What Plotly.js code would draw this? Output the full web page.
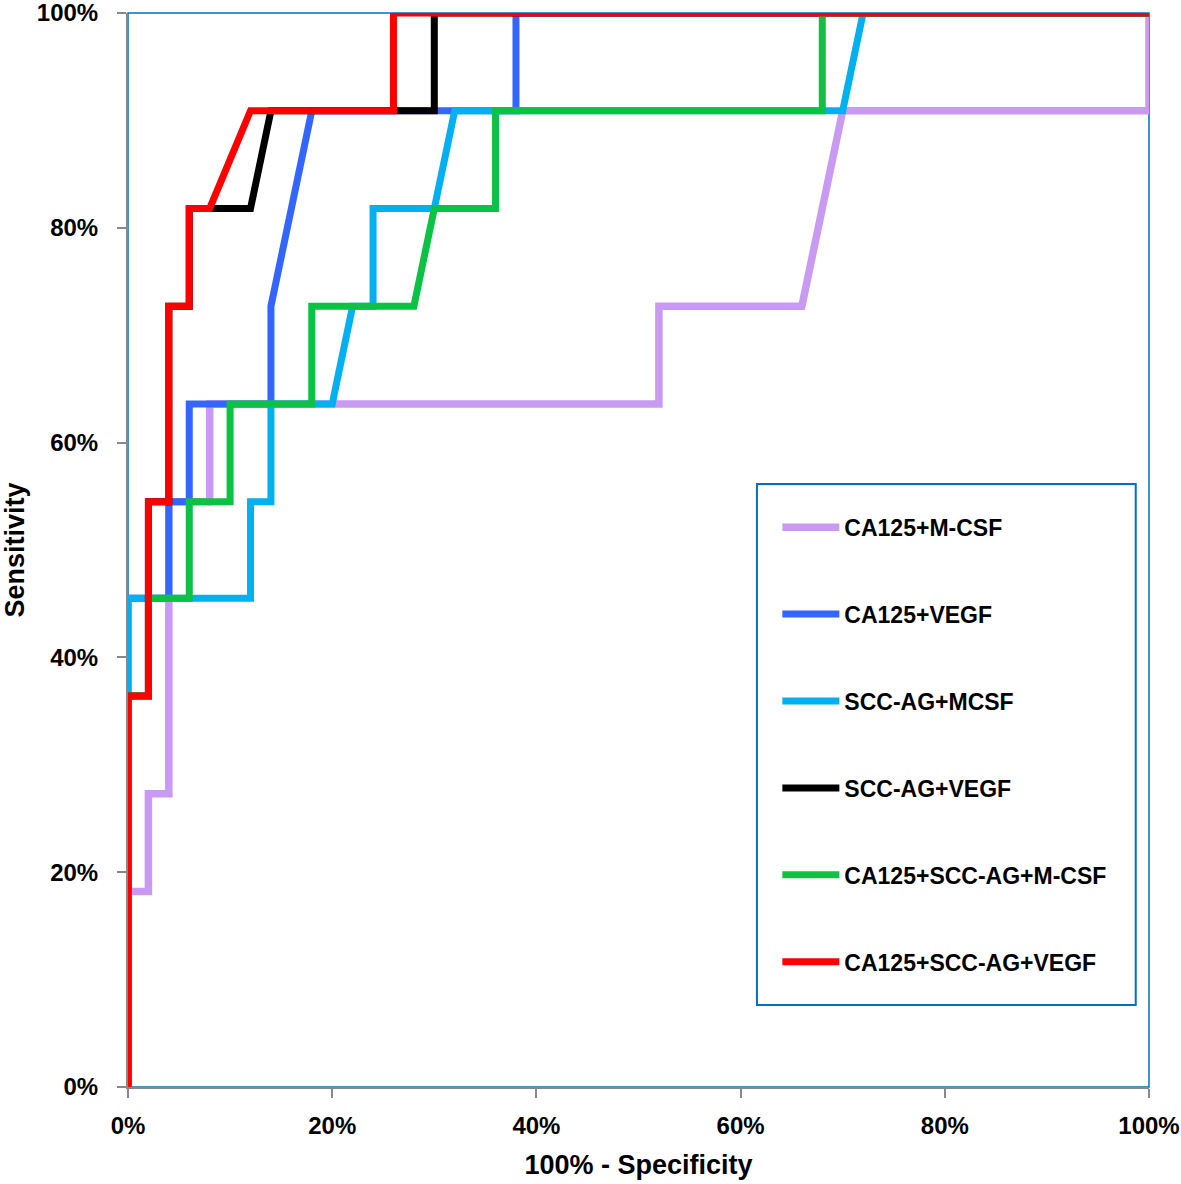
<!DOCTYPE html>
<html>
<head>
<meta charset="utf-8">
<script src="https://cdn.plot.ly/plotly-3.0.1.min.js"></script>
<style>
  html, body { margin: 0; padding: 0; background: #fff; }
  #chart { width: 1181px; height: 1184px; }
</style>
</head>
<body>
<div id="chart"></div>
<script>
// Series names (legend order)
var seriesNames = ["CA125+M-CSF", "CA125+VEGF", "SCC-AG+MCSF", "SCC-AG+VEGF", "CA125+SCC-AG+M-CSF", "CA125+SCC-AG+VEGF"];
var seriesColors = ["#C99AF2", "#3366FF", "#00B0F0", "#000000", "#0CC143", "#FF0000"];

// 100% - Specificity (%) and Sensitivity (%) for each ROC curve
var ca125Mcsf_x = [0, 0, 2, 2, 4, 4, 8, 8, 52, 52, 66, 70, 100, 100];
var ca125Mcsf_y = [0, 18.2, 18.2, 27.3, 27.3, 54.5, 54.5, 63.6, 63.6, 72.7, 72.7, 90.9, 90.9, 100];

var ca125Vegf_x = [0, 0, 4, 4, 6, 6, 14, 14, 18, 38, 38, 100];
var ca125Vegf_y = [0, 45.5, 45.5, 54.5, 54.5, 63.6, 63.6, 72.7, 90.9, 90.9, 100, 100];

var sccMcsf_x = [0, 0, 12, 12, 14, 14, 20, 22, 24, 24, 30, 32, 70, 72, 100];
var sccMcsf_y = [0, 45.5, 45.5, 54.5, 54.5, 63.6, 63.6, 72.7, 72.7, 81.8, 81.8, 90.9, 90.9, 100, 100];

var sccVegf_x = [0, 0, 2, 2, 4, 4, 6, 6, 12, 14, 30, 30, 100];
var sccVegf_y = [0, 36.4, 36.4, 54.5, 54.5, 72.7, 72.7, 81.8, 81.8, 90.9, 90.9, 100, 100];

var ca125SccMcsf_x = [0, 0, 2, 2, 6, 6, 10, 10, 18, 18, 28, 30, 36, 36, 68, 68, 100];
var ca125SccMcsf_y = [0, 36.4, 36.4, 45.5, 45.5, 54.5, 54.5, 63.6, 63.6, 72.7, 72.7, 81.8, 81.8, 90.9, 90.9, 100, 100];

var ca125SccVegf_x = [0, 0, 2, 2, 4, 4, 6, 6, 8, 12, 26, 26, 100];
var ca125SccVegf_y = [0, 36.4, 36.4, 54.5, 54.5, 72.7, 72.7, 81.8, 81.8, 90.9, 90.9, 100, 100];

var tickVals = [0, 20, 40, 60, 80, 100];
var tickText = ["0%", "20%", "40%", "60%", "80%", "100%"];

var xs = [ca125Mcsf_x, ca125Vegf_x, sccMcsf_x, sccVegf_x, ca125SccMcsf_x, ca125SccVegf_x];
var ys = [ca125Mcsf_y, ca125Vegf_y, sccMcsf_y, sccVegf_y, ca125SccMcsf_y, ca125SccVegf_y];
var widths = [7.5, 7, 7, 7, 7, 7];

var FONT = "Liberation Sans, Arial, Helvetica, sans-serif";

var traces = seriesNames.map(function (name, i) {
  return {
    type: "scatter",
    mode: "lines",
    name: name,
    legendgroup: "g" + i,
    x: xs[i],
    y: ys[i],
    line: { color: seriesColors[i], width: widths[i] },
    hoverinfo: "x+y+name"
  };
});

var axisCommon = {
  range: [0, 100],
  tickvals: tickVals,
  ticktext: tickText,
  showgrid: false,
  zeroline: false,
  showline: true,
  linecolor: "#888888",
  linewidth: 2,
  ticks: "outside",
  ticklen: 9,
  tickwidth: 2,
  tickcolor: "#888888",
  ticklabeloverflow: "allow",
  tickfont: { family: FONT, size: 24, color: "#000", weight: "bold" },
  fixedrange: true
};

var layout = {
  width: 1181,
  height: 1184,
  margin: { l: 128, r: 32, t: 13, b: 97 },
  paper_bgcolor: "#ffffff",
  plot_bgcolor: "#ffffff",
  showlegend: true,
  xaxis: Object.assign({}, axisCommon, {
    ticklabelstandoff: 7,
    title: { text: "100% - Specificity", font: { family: FONT, size: 27, color: "#000", weight: "bold" }, standoff: 17 }
  }),
  yaxis: Object.assign({}, axisCommon, {
    ticklabelstandoff: 14,
    title: { text: "Sensitivity", font: { family: FONT, size: 27, color: "#000", weight: "bold" }, standoff: 12 }
  }),
  legend: {
    x: 0.636,
    y: 0.5412,
    xanchor: "left",
    yanchor: "top",
    bgcolor: "rgba(0,0,0,0)",
    borderwidth: 0,
    itemwidth: 57,
    tracegroupgap: 54,
    font: { family: FONT, size: 23, color: "#000", weight: "bold" }
  },
  shapes: [
    { type: "rect", xref: "paper", yref: "paper", x0: 0, x1: 1, y0: 0, y1: 1,
      line: { color: "#0070C0", width: 1.5 }, layer: "below" },
    { type: "rect", xref: "paper", yref: "paper", x0: 0.616, x1: 0.987, y0: 0.0763, y1: 0.5615,
      line: { color: "#0070C0", width: 2 }, fillcolor: "rgba(255,255,255,1)", layer: "below" }
  ]
};

Plotly.newPlot("chart", traces, layout, { displayModeBar: false, staticPlot: true });
</script>
</body>
</html>
